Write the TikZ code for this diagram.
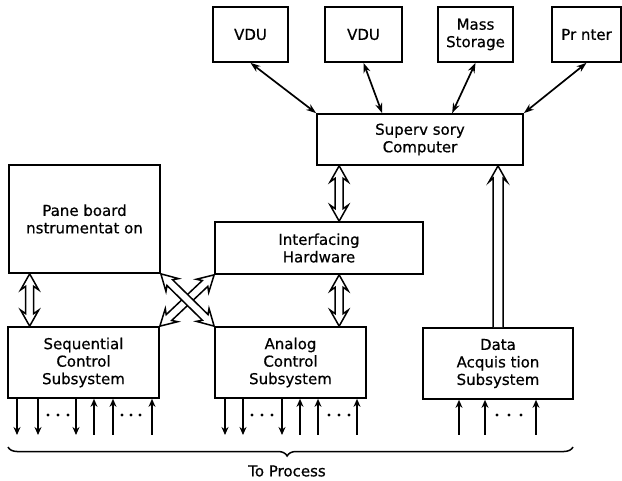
\documentclass[tikz,border=0pt]{standalone}
\usepackage{fontspec}
\setmainfont{DejaVu Sans}[FakeBold=0.6]
\usetikzlibrary{calc,arrows.meta,decorations.pathreplacing}
\tikzset{
  box/.style={draw, line width=1.7pt, align=center, inner sep=0pt,
    font=\fontsize{15}{17.5}\selectfont},
  link/.style={line width=1.7pt, {Stealth[length=10pt,width=7pt]}-{Stealth[length=10pt,width=7pt]}},
  hollow/.style={draw, fill=white, line width=1.5pt, line join=miter},
  sig/.style={line width=1.8pt},
  dnarrow/.style={sig, -{Stealth[length=8pt,width=7pt]}},
  uparrow/.style={sig, {Stealth[length=8pt,width=7pt]}-},
}
% hollow double-headed arrow between two points
\newcommand{\hdbl}[2]{%
  \filldraw[hollow] (#1)
    -- ($(#1)!16pt!(#2)!9pt!90:(#2)$)
    -- ($(#1)!12.5pt!(#2)!4pt!90:(#2)$)
    -- ($(#2)!12.5pt!(#1)!4pt!90:(#2)$)
    -- ($(#2)!16pt!(#1)!9pt!90:(#2)$)
    -- (#2)
    -- ($(#2)!16pt!(#1)!9pt!-90:(#2)$)
    -- ($(#2)!12.5pt!(#1)!4pt!-90:(#2)$)
    -- ($(#1)!12.5pt!(#2)!4pt!-90:(#2)$)
    -- ($(#1)!16pt!(#2)!9pt!-90:(#2)$)
    -- cycle;}
% hollow single-headed arrow from #1 to #2
\newcommand{\hsgl}[2]{%
  \filldraw[hollow] ($(#1)!5pt!90:(#2)$)
    -- ($(#2)!12.5pt!(#1)!5pt!90:(#2)$)
    -- ($(#2)!16pt!(#1)!9pt!90:(#2)$)
    -- (#2)
    -- ($(#2)!16pt!(#1)!9pt!-90:(#2)$)
    -- ($(#2)!12.5pt!(#1)!5pt!-90:(#2)$)
    -- ($(#1)!5pt!-90:(#2)$);}
\begin{document}
\begin{tikzpicture}[x=1pt, y=-1pt]
\useasboundingbox (0,0) rectangle (622,481);

% top devices
\node[box, minimum width=75pt, minimum height=55pt] (vdu1) at (250.5,34.5) {VDU};
\node[box, minimum width=77pt, minimum height=55pt] (vdu2) at (363.5,34.5) {VDU};
\node[box, minimum width=75pt, minimum height=55pt] (mass) at (475.5,34.5) {Mass\\Storage};
\node[box, minimum width=69pt, minimum height=55pt] (prn) at (586.5,34.5) {Pr nter};

% supervisory computer
\node[box, minimum width=206pt, minimum height=51pt] (sup) at (420,139.5) {Superv sory\\Computer};

% middle row
\node[box, minimum width=151pt, minimum height=108pt] (pb) at (84.5,219) {Pane board\\nstrumentat on};
\node[box, minimum width=208pt, minimum height=52pt] (ih) at (319,248) {Interfacing\\Hardware};

% bottom row
\node[box, minimum width=151pt, minimum height=71pt] (seq) at (83.5,362.5) {Sequential\\Control\\Subsystem};
\node[box, minimum width=151pt, minimum height=71pt] (ana) at (290.5,362.5) {Analog\\Control\\Subsystem};
\node[box, minimum width=150pt, minimum height=71pt] (da) at (498,363.5) {Data\\Acquis tion\\Subsystem};

% thin links to supervisory computer
\draw[link] (vdu1.south) -- (sup.north west);
\draw[link] (vdu2.south) -- ($(sup.north west)+(66,0)$);
\draw[link] (mass.south) -- ($(sup.north west)+(136,0)$);
\draw[link] (prn.south) -- (sup.north east);

% hollow arrows
\coordinate (s1) at ($(sup.south west)+(23,0)$);
\coordinate (i1) at ($(ih.north west)+(125,0)$);
\hdbl{s1}{i1}
\coordinate (i2) at ($(ih.south west)+(125,0)$);
\coordinate (a1) at ($(ana.north west)+(125,0)$);
\hdbl{i2}{a1}
\coordinate (p1) at ($(pb.south west)+(21.5,0)$);
\coordinate (q1) at ($(seq.north west)+(22.5,0)$);
\hdbl{p1}{q1}
\hdbl{ih.south west}{seq.north east}
\hdbl{pb.south east}{ana.north west}
\coordinate (d1) at (da.north);
\coordinate (d2) at (sup.south -| da.north);
\hsgl{d1}{d2}

% process signals
\foreach \x in {17,38,76,225,243,282}
  \draw[dnarrow] (\x,0 |- seq.south) -- (\x,435);
\foreach \x in {94,113,152,300,318,357}
  \draw[uparrow] (\x,0 |- seq.south) -- (\x,435);
\foreach \x in {459,485,536}
  \draw[uparrow] (\x,0 |- da.south) -- (\x,435);
\foreach \x in {48,58,68,122,131,140,252,262,272,329,339,349,497,509,521}
  \fill (\x,415) circle (1.6);

% brace
\draw[line width=1.5pt, decorate, decoration={brace, mirror, amplitude=9pt, aspect=0.494}]
  (8,447) -- (573,447);
\node[font=\fontsize{15}{17.5}\selectfont] (tp) at (287,471) {To Process};
\end{tikzpicture}
\end{document}
